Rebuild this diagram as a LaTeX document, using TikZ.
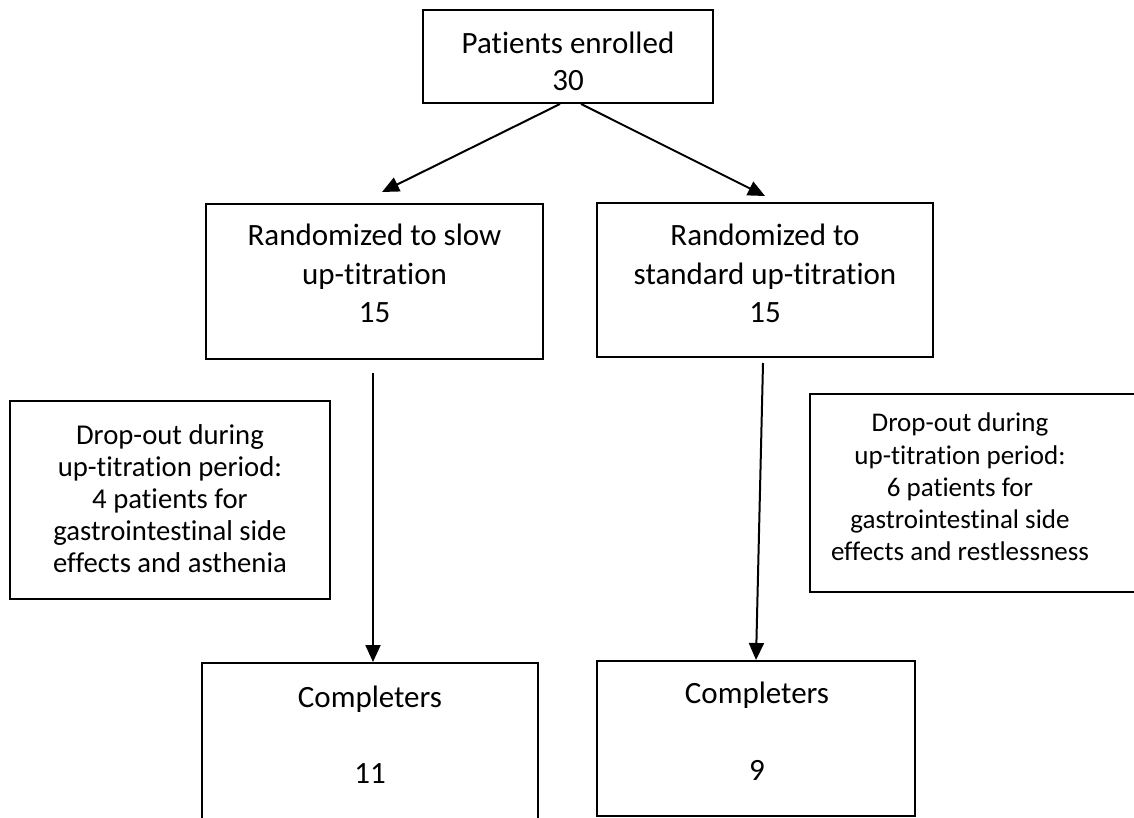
\documentclass[tikz,border=0pt]{standalone}
\usepackage{fontspec}
\setmainfont{Carlito}[Ligatures={NoCommon}]
\usetikzlibrary{arrows.meta}
\begin{document}
\begin{tikzpicture}[x=1pt, y=-1pt, line width=2pt, >={Triangle[length=17pt,width=15pt]}]

    \tikzset{block/.style={%
      draw,%
      rectangle,%
      inner sep=0pt}%
    };

    \tikzset{bigtext/.style={align=center, inner sep=0pt, font=\fontsize{31}{38.5}\selectfont}};
    \tikzset{smalltext/.style={bigtext, font=\fontsize{28.7}{32}\selectfont}};

    \fill[white] (0,0) rectangle (1134,818);
    \useasboundingbox (0,0) rectangle (1134,818);
    \clip (0,0) rectangle (1134,818);

    %%%%%%%%%%%%%%%
    %  enrolment  %
    %%%%%%%%%%%%%%%
    \node [block, minimum width=290pt, minimum height=93pt] (enr) at (568, 56.5) {};
    \node [bigtext] (enrtext) at (568, 61.5) {Patients enrolled\\[-1.5pt]30};

    %%%%%%%%%%%%%%%
    %    arms     %
    %%%%%%%%%%%%%%%
    \node [block, minimum width=337pt, minimum height=155pt] (slow) at (374.5, 281.5) {};
    \node [bigtext] (slowtext) at (374.5, 273.5) {Randomized to slow\\up-titration\\15};
    \node [block, minimum width=336pt, minimum height=154pt] (std) at (765, 280) {};
    \node [bigtext] (stdtext) at (765, 273.5) {Randomized to\\standard up-titration\\15};

    %%%%%%%%%%%%%%%
    %  drop-outs  %
    %%%%%%%%%%%%%%%
    \node [block, minimum width=320pt, minimum height=198pt] (dropl) at (170, 500) {};
    \node [smalltext] (dropltext) at (170, 498.5) {Drop-out during\\up-titration period:\\4 patients for\\gastrointestinal side\\effects and asthenia};
    \node [block, minimum width=326pt, minimum height=198pt] (dropr) at (973, 493) {};
    \node [smalltext, font=\fontsize{27}{32.2}\selectfont] (droprtext) at (960, 487) {Drop-out during\\up-titration period:\\6 patients for\\gastrointestinal side\\effects and restlessness};

    %%%%%%%%%%%%%%%
    %  completers %
    %%%%%%%%%%%%%%%
    \node [block, minimum width=336pt, minimum height=167pt] (cmpl) at (370, 746.5) {};
    \node [bigtext] (cmpltext) at (370, 735) {Completers\\[37.5pt]11};
    \node [block, minimum width=318pt, minimum height=155pt] (cmpr) at (756, 738.5) {};
    \node [bigtext] (cmprtext) at (757, 731.5) {Completers\\[38.5pt]9};

    \coordinate (slowin) at (382, 192);
    \coordinate (stdin) at (765, 196);

    \draw [->] ([xshift=-8pt]enr.south) -- (slowin);
    \draw [->] ([xshift=13pt]enr.south) -- (stdin);
    \draw [->] ([xshift=-1.5pt, yshift=-13pt]slow.south) -- ([xshift=3pt]cmpl.north);
    \draw [->] ([xshift=-2pt, yshift=-5pt]std.south) -- (cmpr.north);

\end{tikzpicture}
\end{document}
